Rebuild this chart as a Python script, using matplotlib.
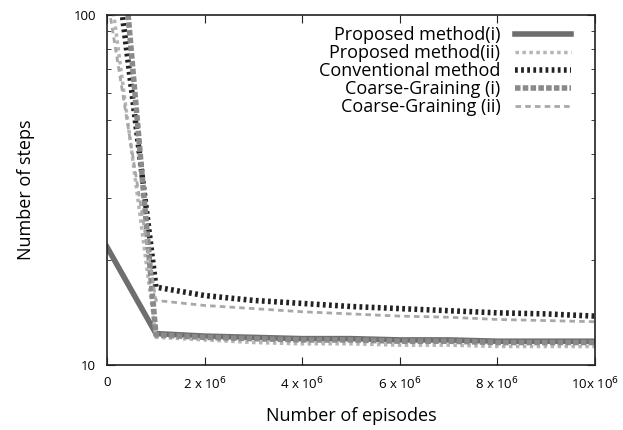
import matplotlib
matplotlib.use("Agg")
import matplotlib.pyplot as plt
from matplotlib.ticker import FixedLocator, FixedFormatter, LogLocator, NullFormatter

plt.rcParams['font.family'] = ['Open Sans', 'DejaVu Sans']

episodes = [0, 1e6, 2e6, 3e6, 4e6, 5e6, 6e6, 7e6, 8e6, 9e6, 10e6]
proposed_i = [21.7, 12.3, 12.1, 12.0, 11.9, 11.9, 11.8, 11.8, 11.7, 11.7, 11.7]
proposed_ii = [140, 12.0, 11.8, 11.6, 11.5, 11.5, 11.4, 11.4, 11.3, 11.3, 11.3]
conventional = [225, 16.7, 15.8, 15.3, 15.0, 14.7, 14.5, 14.3, 14.1, 14.0, 13.8]
coarse_i = [490, 12.2, 12.0, 11.9, 11.8, 11.8, 11.7, 11.7, 11.6, 11.6, 11.6]
coarse_ii = [113, 15.3, 14.8, 14.5, 14.2, 14.0, 13.8, 13.7, 13.5, 13.4, 13.3]

labels = ["Proposed method(i)", "Proposed method(ii)", "Conventional method",
          "Coarse-Graining (i)", "Coarse-Graining (ii)"]
xtick_vals = [0, 2e6, 4e6, 6e6, 8e6, 10e6]
xtick_labels = ["0", r"2 x 10$^6$", r"4 x 10$^6$", r"6 x 10$^6$", r"8 x 10$^6$", r"10x 10$^6$"]
ytick_vals = [10, 100]
ytick_labels = ["10", "100"]

fig = plt.figure(figsize=(6.23, 4.30), dpi=100)
ax = fig.add_axes([0.172, 0.151, 0.783, 0.814])

ax.plot(episodes, proposed_i, color='#6e6e6e', lw=4.0, ls='-', label=labels[0])
ax.plot(episodes, proposed_ii, color='#b5b5b5', lw=2.5, ls=(0, (1, 1)), label=labels[1])
ax.plot(episodes, conventional, color='#222222', lw=4.0, ls=(0, (0.5, 0.6)), label=labels[2])
ax.plot(episodes, coarse_i, color='#8a8a8a', lw=4.0, ls=(0, (1, 0.4)), label=labels[3])
ax.plot(episodes, coarse_ii, color='#a8a8a8', lw=2.0, ls=(0, (2, 1.5)), label=labels[4])

ax.set_yscale('log')
ax.set_xlim(0, 10e6)
ax.set_ylim(10, 100)
ax.xaxis.set_major_locator(FixedLocator(xtick_vals))
ax.xaxis.set_major_formatter(FixedFormatter(xtick_labels))
ax.yaxis.set_major_locator(FixedLocator(ytick_vals))
ax.yaxis.set_major_formatter(FixedFormatter(ytick_labels))
ax.yaxis.set_minor_locator(LogLocator(base=10, subs=range(2, 10)))
ax.yaxis.set_minor_formatter(NullFormatter())
ax.tick_params(which='both', direction='in', top=True, right=True, labelsize=9.5, color='#222222')
ax.tick_params(which='major', length=6, pad=8)
ax.tick_params(which='minor', length=3)
for s in ax.spines.values():
    s.set_color('#222222')
    s.set_linewidth(1.2)

ax.set_xlabel("Number of episodes", fontsize=13, labelpad=10)
ax.set_ylabel("Number of steps", fontsize=13, labelpad=28)

ax.legend(loc='upper right', frameon=False, markerfirst=False, fontsize=13,
          handlelength=3.1, labelspacing=0.0, handletextpad=0.8,
          bbox_to_anchor=(578 / 623, 1 - 19 / 430), bbox_transform=fig.transFigure,
          borderaxespad=0)

fig.savefig("out.png", dpi=100)
